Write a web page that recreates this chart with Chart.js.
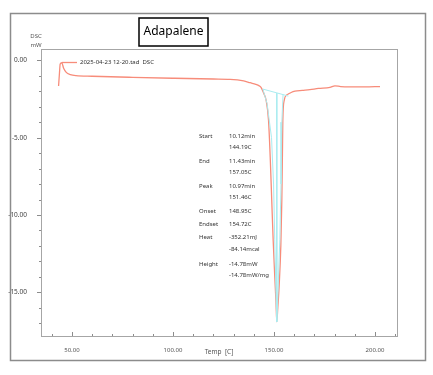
<!DOCTYPE html>
<html>
<head>
<meta charset="utf-8">
<script src="https://cdn.jsdelivr.net/npm/chart.js@4"></script>
<style>
  html, body { margin: 0; padding: 0; background: #fff; }
  #dsc { display: block; }
</style>
</head>
<body>
<canvas id="dsc" width="433" height="375"></canvas>
<script>
// DSC curve (Temp [C] / mW)
const temps = [43.4, 43.8, 44.2, 45.0, 45.9, 47.2, 49.2, 52.0, 60.0, 80.0, 100.0, 120.0, 128.3, 135.0, 138.2, 141.0, 142.3, 143.4, 144.0,
  145.0, 146.1, 147.3, 148.2, 148.9, 149.6, 150.4, 151.0, 151.4, 151.9, 152.6, 153.4, 153.9, 154.2, 154.4, 155.1, 156.3,
  157.1, 158.5, 160.4, 164.0, 167.8, 172.0, 177.7, 180.2, 183.0, 187.6, 195.0, 202.5];
const dsc = [-1.66, -0.90, -0.24, -0.16, -0.52, -0.78, -0.92, -0.99, -1.03, -1.10, -1.16, -1.21, -1.23, -1.33, -1.45, -1.55, -1.62, -1.72, -1.85,
  -2.15, -2.57, -3.86, -6.45, -9.03, -11.6, -14.0, -15.6, -16.9, -16.0, -14.5, -12.0, -9.0, -6.0, -3.86, -2.57, -2.24,
  -2.18, -2.08, -2.00, -1.95, -1.90, -1.82, -1.75, -1.65, -1.70, -1.72, -1.72, -1.70];

// analysis lines (cyan)
const baseTemps = [144.5, 157.1];
const baseVals = [-1.86, -2.31];
const peakTemps = [151.4, 151.4];
const peakVals = [-2.13, -16.9];
const innerLeftTemps = [144.5, 146.6, 148.8, 149.8, 150.4, 151.0, 151.4];
const innerLeftVals = [-1.86, -2.8, -5.0, -8.0, -11.6, -15.0, -16.9];
const innerRightTemps = [154.5, 153.9, 153.5, 152.9, 152.0, 151.4];
const innerRightVals = [-2.22, -4.0, -8.0, -11.6, -15.0, -16.9];

const xTicks = [50, 100, 150, 200];
const yTicks = [0, -5, -10, -15];

const chartTitle = 'Adapalene';
const seriesName = '2025-04-23 12-20.tad  DSC';
const infoLabels = ['Start', '', 'End', '', 'Peak', '', 'Onset', 'Endset', 'Heat', '', 'Height', ''];
const infoValues = ['10.12min', '144.19C', '11.43min', '157.05C', '10.97min', '151.46C', '148.95C', '154.72C',
  '-352.21mJ', '-84.14mcal', '-14.78mW', '-14.78mW/mg'];
const infoRowsY = [136, 147, 161, 172, 186, 197, 211, 224, 237, 249, 264, 275];

const RED = 'rgb(247,140,122)';
const CYAN = 'rgb(170,236,240)';
const FONT = '"Noto Sans", "DejaVu Sans", sans-serif';

function pts(xs, ys) {
  return xs.map(function(x, i) { return {x: x, y: ys[i]}; });
}

// frame, title box, labels, legend, minor ticks, peak info
const decor = {
  id: 'decor',
  beforeDraw(chart) {
    const c = chart.ctx;
    c.save();
    c.fillStyle = '#fff';
    c.fillRect(0, 0, chart.width, chart.height);
    c.restore();
  },
  afterDraw(chart) {
    const c = chart.ctx;
    const a = chart.chartArea;
    const xs = chart.scales.x, ys = chart.scales.y;
    c.save();

    // outer frame
    c.strokeStyle = '#8c8c8c';
    c.lineWidth = 1.5;
    c.strokeRect(10.5, 13.5, 415, 347);

    // plot box
    c.strokeStyle = '#a6a6a6';
    c.lineWidth = 1;
    c.strokeRect(a.left + 0.5, a.top + 0.5, a.right - a.left, a.bottom - a.top);

    // ticks
    c.strokeStyle = '#8c8c8c';
    c.beginPath();
    for (let t = 40; t <= 210; t += 10) {
      const px = Math.round(xs.getPixelForValue(t)) + 0.5;
      const len = (t % 50 === 0) ? 4 : 2;
      c.moveTo(px, a.bottom);
      c.lineTo(px, a.bottom - len);
    }
    for (let v = 0; v >= -17; v -= 1) {
      const py = Math.round(ys.getPixelForValue(v)) + 0.5;
      const len = (v % 5 === 0) ? 4 : 2;
      c.moveTo(a.left, py);
      c.lineTo(a.left - len, py);
    }
    c.stroke();

    // title box
    c.strokeStyle = '#000';
    c.lineWidth = 1.5;
    c.strokeRect(139, 18, 69, 28);
    c.fillStyle = '#000';
    c.font = '12px ' + FONT;
    c.textAlign = 'center';
    c.textBaseline = 'middle';
    c.fillText(chartTitle, 173.5, 32);

    // y unit
    c.fillStyle = '#555';
    c.font = '6px ' + FONT;
    c.fillText('DSC', 36, 36);
    c.fillText('mW', 36, 45);

    // legend
    c.strokeStyle = RED;
    c.lineWidth = 1.3;
    c.beginPath();
    c.moveTo(62, 62.5);
    c.lineTo(77, 62.5);
    c.stroke();
    c.fillStyle = '#333';
    c.textAlign = 'left';
    c.fillText(seriesName, 80, 62.5);

    // peak info
    for (let i = 0; i < infoValues.length; i++) {
      if (infoLabels[i]) c.fillText(infoLabels[i], 199, infoRowsY[i]);
      c.fillText(infoValues[i], 229, infoRowsY[i]);
    }
    c.restore();
  }
};

new Chart(document.getElementById('dsc'), {
  type: 'line',
  data: {
    datasets: [
      { label: 'base', data: pts(baseTemps, baseVals), borderColor: CYAN, borderWidth: 1, pointRadius: 0 },
      { label: 'peak', data: pts(peakTemps, peakVals), borderColor: CYAN, borderWidth: 1, pointRadius: 0 },
      { label: 'left', data: pts(innerLeftTemps, innerLeftVals), borderColor: CYAN, borderWidth: 1, pointRadius: 0 },
      { label: 'right', data: pts(innerRightTemps, innerRightVals), borderColor: CYAN, borderWidth: 1, pointRadius: 0 },
      { label: seriesName, data: pts(temps, dsc), borderColor: RED, borderWidth: 1.3, pointRadius: 0,
        cubicInterpolationMode: 'monotone' }
    ]
  },
  options: {
    responsive: false,
    animation: false,
    layout: { padding: { left: 0, top: 49, right: 36, bottom: 14 } },
    plugins: {
      legend: { display: false },
      title: { display: false },
      tooltip: { enabled: false }
    },
    scales: {
      x: {
        type: 'linear',
        min: 34.7,
        max: 210.9,
        afterFit: function(s) { s.height = 25; },
        afterBuildTicks: function(s) { s.ticks = xTicks.map(function(v) { return {value: v}; }); },
        grid: { display: false },
        border: { display: false },
        ticks: {
          padding: 3,
          color: '#555',
          font: { family: FONT, size: 6 },
          maxRotation: 0,
          callback: function(v) { return Number(v).toFixed(2); }
        },
        title: {
          display: true,
          text: 'Temp  [C]',
          color: '#555',
          font: { family: FONT, size: 6.5 },
          padding: { top: 0, bottom: 5 }
        }
      },
      y: {
        type: 'linear',
        min: -17.82,
        max: 0.73,
        afterFit: function(s) { s.width = 41; },
        afterBuildTicks: function(s) { s.ticks = yTicks.map(function(v) { return {value: v}; }); },
        grid: { display: false },
        border: { display: false },
        ticks: {
          padding: 6,
          color: '#444',
          font: { family: FONT, size: 6.5 },
          callback: function(v) { return Number(v).toFixed(2); }
        }
      }
    }
  },
  plugins: [decor]
});
</script>
</body>
</html>
